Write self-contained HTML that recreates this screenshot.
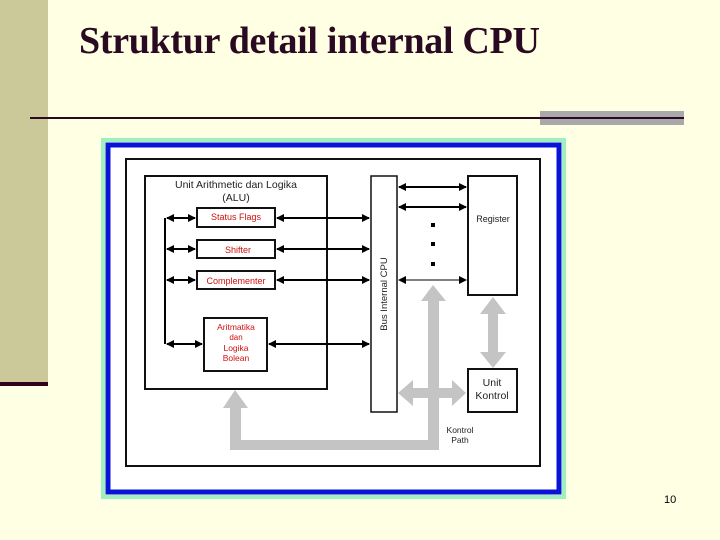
<!DOCTYPE html>
<html><head><meta charset="utf-8"><style>
html,body{margin:0;padding:0;}
body{width:720px;height:540px;background:#FFFFE3;position:relative;overflow:hidden;font-family:"Liberation Sans",sans-serif;}
</style></head><body>
<div style="position:absolute;left:0;top:0;width:48px;height:382px;background:#CBC89A"></div>
<div style="position:absolute;left:0;top:382px;width:48px;height:4px;background:#33001A"></div>
<div style="position:absolute;left:79px;top:19px;font-family:'Liberation Serif',serif;font-weight:bold;font-size:38px;color:#2A0A22;letter-spacing:-0.3px;white-space:nowrap">Struktur detail internal CPU</div>
<div style="position:absolute;left:540px;top:111px;width:144px;height:14px;background:#ABA8AC"></div>
<div style="position:absolute;left:30px;top:117px;width:654px;height:2px;background:#2A0A22"></div>
<div style="position:absolute;left:664px;top:494px;font-size:11px;color:#000">10</div>
<svg width="720" height="540" style="position:absolute;left:0;top:0" font-family="Liberation Sans, sans-serif">
<defs>
<marker id="a" markerWidth="8" markerHeight="8" refX="7" refY="4" orient="auto-start-reverse" markerUnits="userSpaceOnUse"><path d="M0,0 L8,4 L0,8z" fill="#000"/></marker>
</defs>
<rect x="103" y="140" width="461" height="357" fill="none" stroke="#9EF0C0" stroke-width="4"/>
<rect x="108" y="145" width="451" height="347" fill="#fff" stroke="#0A14D8" stroke-width="5"/>
<rect x="126" y="159" width="414" height="307" fill="none" stroke="#111" stroke-width="2"/>
<rect x="145" y="176" width="182" height="213" fill="none" stroke="#111" stroke-width="2"/>
<text x="236" y="188" font-size="10.5" text-anchor="middle" fill="#222">Unit Arithmetic dan Logika</text>
<text x="236" y="201" font-size="10.5" text-anchor="middle" fill="#222">(ALU)</text>
<rect x="371" y="176" width="26" height="236" fill="#fff" stroke="#111" stroke-width="1.5"/>
<text transform="translate(387,294) rotate(-90)" font-size="9.5" text-anchor="middle" fill="#222">Bus Internal CPU</text>
<rect x="468" y="176" width="49" height="119" fill="#fff" stroke="#111" stroke-width="2"/>
<text x="493" y="222" font-size="9" text-anchor="middle" fill="#222">Register</text>
<rect x="468" y="369" width="49" height="43" fill="#fff" stroke="#111" stroke-width="2"/>
<text x="492" y="386" font-size="10.5" text-anchor="middle" fill="#222">Unit</text>
<text x="492" y="399" font-size="10.5" text-anchor="middle" fill="#222">Kontrol</text>
<g fill="#fff" stroke="#111" stroke-width="2">
<rect x="197" y="208" width="78" height="19"/>
<rect x="197" y="240" width="78" height="18"/>
<rect x="197" y="271" width="78" height="18"/>
<rect x="204" y="318" width="63" height="53"/>
</g>
<g font-size="9" fill="#D01010" text-anchor="middle">
<text x="236" y="220">Status Flags</text>
<text x="238" y="253">Shifter</text>
<text x="236" y="284">Complementer</text>
<text x="236" y="330" font-size="8.5">Aritmatika</text>
<text x="236" y="340" font-size="8">dan</text>
<text x="236" y="351" font-size="8.5">Logika</text>
<text x="236" y="361" font-size="8.5">Bolean</text>
</g>
<g stroke="#000" stroke-width="2" fill="none">
<line x1="165" y1="218" x2="165" y2="344"/>
<line x1="167" y1="218" x2="195" y2="218" marker-start="url(#a)" marker-end="url(#a)"/>
<line x1="167" y1="249" x2="195" y2="249" marker-start="url(#a)" marker-end="url(#a)"/>
<line x1="167" y1="280" x2="195" y2="280" marker-start="url(#a)" marker-end="url(#a)"/>
<line x1="167" y1="344" x2="202" y2="344" marker-start="url(#a)" marker-end="url(#a)"/>
<line x1="277" y1="218" x2="369" y2="218" marker-start="url(#a)" marker-end="url(#a)"/>
<line x1="277" y1="249" x2="369" y2="249" marker-start="url(#a)" marker-end="url(#a)"/>
<line x1="277" y1="280" x2="369" y2="280" marker-start="url(#a)" marker-end="url(#a)"/>
<line x1="269" y1="344" x2="369" y2="344" marker-start="url(#a)" marker-end="url(#a)"/>
<line x1="399" y1="187" x2="466" y2="187" marker-start="url(#a)" marker-end="url(#a)"/>
<line x1="399" y1="207" x2="466" y2="207" marker-start="url(#a)" marker-end="url(#a)"/>
<line x1="399" y1="280" x2="466" y2="280" stroke-width="1" marker-start="url(#a)" marker-end="url(#a)"/>
</g>
<g fill="#000"><rect x="431" y="223" width="4" height="4"/><rect x="431" y="242" width="4" height="4"/><rect x="431" y="262" width="4" height="4"/></g>
<g fill="#C4C4C4">
<rect x="428" y="298" width="11" height="152"/>
<polygon points="421,301 433,285 446,301"/>
<rect x="230" y="440" width="209" height="10"/>
<rect x="230" y="405" width="11" height="45"/>
<polygon points="223,408 235,390 248,408"/>
<rect x="410" y="388" width="44" height="10"/>
<polygon points="413,380 398,393 413,406"/>
<polygon points="452,380 466,393 452,406"/>
<rect x="488" y="310" width="10" height="46"/>
<polygon points="480,314 493,297 506,314"/>
<polygon points="480,352 493,368 506,352"/>
</g>
<text x="460" y="433" font-size="8.5" text-anchor="middle" fill="#222">Kontrol</text>
<text x="460" y="443" font-size="8.5" text-anchor="middle" fill="#222">Path</text>
</svg>
</body></html>
